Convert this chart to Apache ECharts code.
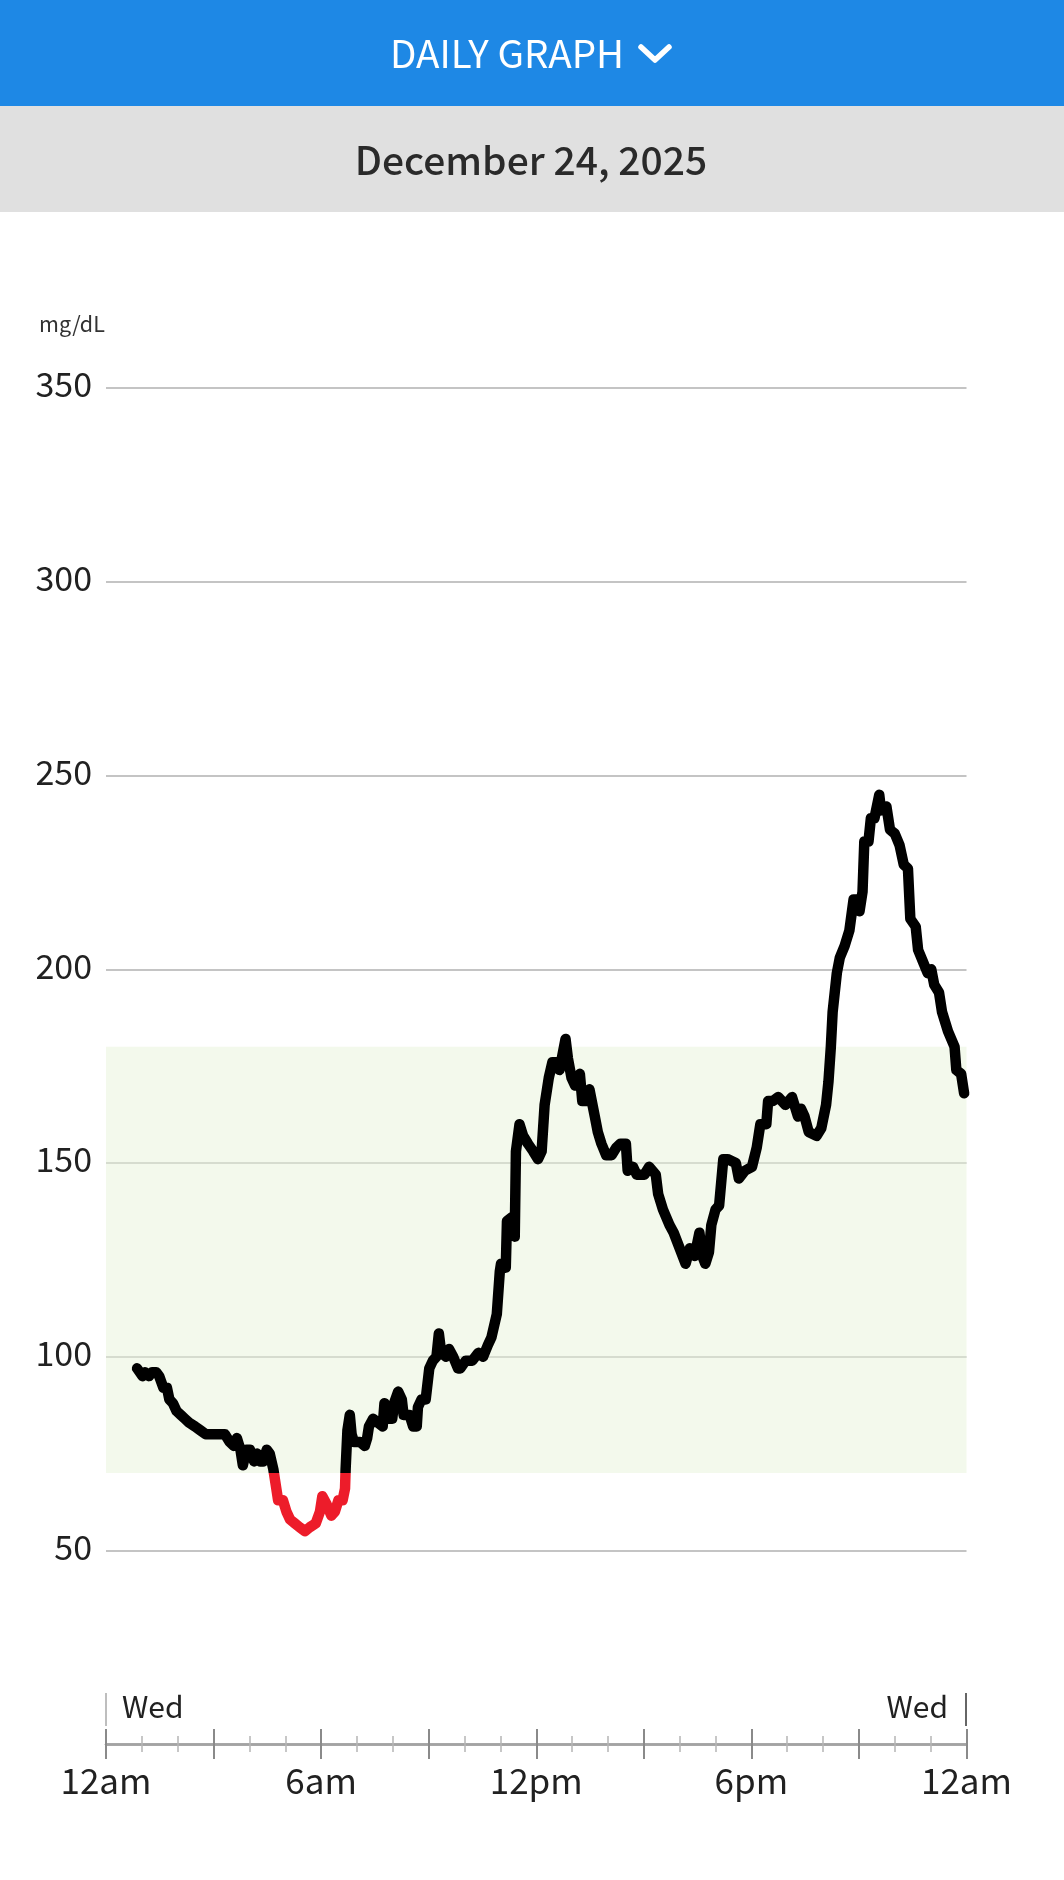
<!DOCTYPE html>
<html><head><meta charset="utf-8">
<style>html,body{margin:0;padding:0;background:#fff}#c{width:1064px;height:1880px}</style>
<script src="https://cdn.jsdelivr.net/npm/echarts@6/dist/echarts.min.js"></script>
</head><body><div id="c"></div>
<script>
const minutes = [52,61,65,72,77,84,89,96,102,106,112,118,125,132,139,149,158,167,199,207,214,219,225,229,235,241,248,253,258,263,269,274,280,285,288,296,302,308,316,324,333,341,351,358,362,369,377,383,389,396,400,401,404,408,411,415,425,433,437,440,447,455,463,466,471,479,482,489,495,498,508,514,520,522,528,535,541,547,553,557,561,569,574,581,589,593,602,613,623,631,639,645,651,654,659,661,669,671,679,684,686,692,698,706,715,723,729,734,741,747,754,759,769,773,779,785,793,797,803,809,812,818,823,829,837,846,854,861,870,873,882,888,901,909,920,924,932,943,950,960,970,977,985,993,998,1003,1009,1013,1020,1026,1033,1040,1054,1059,1069,1081,1089,1095,1105,1108,1116,1125,1137,1148,1158,1163,1169,1176,1189,1197,1205,1209,1213,1216,1223,1228,1236,1244,1251,1256,1261,1266,1269,1276,1280,1286,1294,1297,1306,1312,1320,1328,1335,1342,1346,1355,1359,1367,1375,1381,1386,1394,1399,1409,1420,1423,1431,1436];
const glucose = [97,95,96,95,96,96,95,92,92,89,88,86,85,84,83,82,81,80,80,78,77,79,76,72,76,76,73,75,73,73,76,75,71,66,63,63,60,58,57,56,55,56,57,60,64,62,59,60,63,63,66,71,81,85,80,78,78,77,79,82,84,83,82,88,84,84,88,91,89,85,85,82,82,87,89,89,97,99,100,106,101,100,102,100,97,97,99,99,101,100,103,105,109,111,122,124,123,135,136,131,153,160,157,155,153,151,153,165,172,176,176,174,182,177,172,170,173,166,166,169,169,162,158,155,152,152,154,155,155,148,149,147,147,149,147,142,138,134,132,128,124,128,126,132,126,124,127,134,138,139,151,151,150,146,148,149,154,160,160,166,166,167,165,167,162,164,162,158,157,159,165,171,180,189,199,203,206,210,218,218,215,220,233,233,239,239,245,241,242,236,235,232,227,226,213,211,205,202,199,200,196,194,189,184,180,174,173,168];
const yTicks = [50,100,150,200,250,300,350];
const xLabels = ['12am','6am','12pm','6pm','12am'];
const targetLow = 70, targetHigh = 180;
const pageTitle = 'DAILY GRAPH', dateTitle = 'December 24, 2025', unit = 'mg/dL', dayLabel = 'Wed';

const FONT = '"Noto Sans CJK JP","Noto Sans",sans-serif';
const L = 106, R = 966.5, T = 388, B = 1550.5, AXY = 1744;
const yMin = yTicks[0], yMax = yTicks[yTicks.length-1];
const chart = echarts.init(document.getElementById('c'), null, {renderer:'canvas', width:1064, height:1880});
const labelFmt = v => (v % 360 === 0 ? xLabels[v / 360] : '');
function xAxis(inside){
  return {
    type:'value', min:0, max:1440, interval:180, position:'bottom', offset:AXY-B,
    axisLine:{show:true, onZero:false, lineStyle:{color:'#a3a3a3', width:2.5}},
    axisTick:{show:true, inside:inside, length:15, lineStyle:{color:'#8a8a8a', width:2}},
    minorTick:{show:true, splitNumber:3, length:8, lineStyle:{color:'#b5b5b5', width:1.5}},
    splitLine:{show:false}, minorSplitLine:{show:false},
    axisLabel:{show:!inside, formatter:labelFmt, margin:19, color:'#212121', fontSize:35, fontFamily:FONT, hideOverlap:false, showMinLabel:true, showMaxLabel:true}
  };
}
const txt = (text,x,y,size,align,color,weight) => ({type:'text', silent:true, style:{text, x, y, fill:color, font:(weight||400)+' '+size+'px '+FONT, textAlign:align, textVerticalAlign:'middle'}});
const stopAt = (yMax - targetLow) / (yMax - yMin);
const lineColor = new echarts.graphic.LinearGradient(0, T, 0, B, [
  {offset:0, color:'#000000'}, {offset:stopAt, color:'#000000'},
  {offset:stopAt, color:'#ed1c2a'}, {offset:1, color:'#ed1c2a'}
], true);
chart.setOption({
  animation:false,
  backgroundColor:'#ffffff',
  grid:{left:L, top:T, width:R-L, height:B-T, containLabel:false},
  xAxis:[xAxis(false), xAxis(true)],
  yAxis:{
    type:'value', min:yMin, max:yMax, interval:50,
    axisLine:{show:false}, axisTick:{show:false},
    splitLine:{show:true, lineStyle:{color:'#b0b0b0', width:1.5}},
    axisLabel:{margin:14, color:'#212121', fontSize:34, fontFamily:FONT, verticalAlign:'bottom', lineHeight:7}
  },
  series:[{
    type:'line', xAxisIndex:0, yAxisIndex:0, symbol:'none', showSymbol:false, smooth:false, z:5,
    lineStyle:{width:10.5, cap:'round', join:'round', color:lineColor},
    data:minutes.map((m,i)=>[m,glucose[i]]),
    markArea:{silent:true, z:3, itemStyle:{color:'rgba(231,243,217,0.5)', borderWidth:0},
      data:[[{yAxis:targetLow},{yAxis:targetHigh}]]}
  }],
  graphic:[
    {type:'rect', silent:true, shape:{x:0,y:0,width:1064,height:106}, style:{fill:'#1e88e5'}},
    {type:'rect', silent:true, shape:{x:0,y:106,width:1064,height:106}, style:{fill:'#e0e0e0'}},
    txt(pageTitle,507,53,38.5,'center','#ffffff',400),
    {type:'polyline', silent:true, shape:{points:[[641,47],[655,60],[669,47]]}, style:{stroke:'#ffffff', lineWidth:5.5, fill:null, lineCap:'round', lineJoin:'round'}},
    txt(dateTitle,531,160,39,'center','#2a2a2a',500),
    txt(unit,39,324,21.5,'left','#333333',400),
    txt(dayLabel,122,1707,30,'left','#212121',400),
    txt(dayLabel,948,1707,30,'right','#212121',400),
    {type:'line', silent:true, shape:{x1:106,y1:1693,x2:106,y2:1726}, style:{stroke:'#a8a8a8', lineWidth:1.5}},
    {type:'line', silent:true, shape:{x1:966,y1:1693,x2:966,y2:1726}, style:{stroke:'#666666', lineWidth:2}}
  ]
});
</script></body></html>
